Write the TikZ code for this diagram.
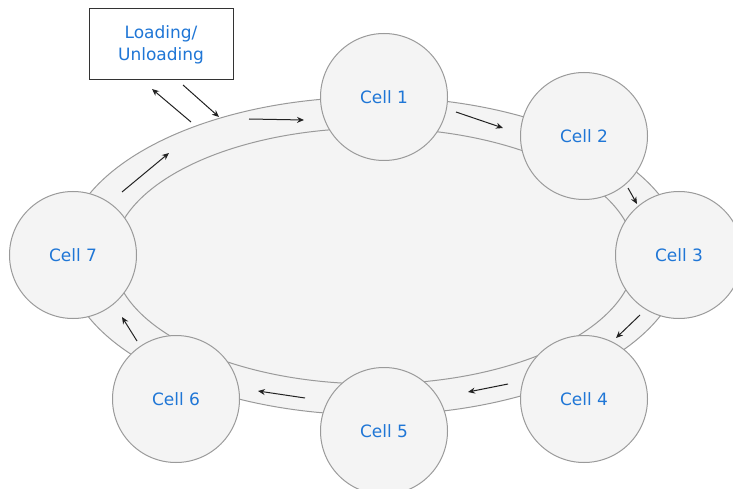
\documentclass[tikz,border=0pt]{standalone}
\usepackage{fontspec}
\setmainfont{DejaVu Sans}
\usetikzlibrary{arrows.meta}
\definecolor{ringfill}{HTML}{F4F4F4}
\definecolor{ringline}{HTML}{9A9A9A}
\definecolor{celltext}{HTML}{1F76D6}
\definecolor{arrowcol}{HTML}{222222}
\begin{document}
\begin{tikzpicture}[x=1pt,y=-1pt,
  cell/.style={circle, draw=ringline, fill=ringfill, line width=1pt, minimum size=127pt, inner sep=0pt,
    text=celltext, font=\fontsize{17}{20}\selectfont},
  loadbox/.style={draw=black!80, fill=white, line width=1pt, minimum width=144pt, minimum height=71pt,
    inner sep=0pt, align=center, text=celltext, font=\fontsize{17}{22}\selectfont},
  flow/.style={draw=arrowcol, line width=1pt, -{Stealth[length=7pt,width=6pt]}}]
\useasboundingbox (0,0) rectangle (733,489);
% ring
\coordinate (ctr) at (374,256);
\draw[ringline, fill=ringfill, line width=1pt] (ctr) ellipse [x radius=309pt, y radius=159pt];
\draw[ringline, fill=ringfill, line width=1pt] (ctr) ellipse [x radius=261pt, y radius=128pt];
% cells
\node[cell] (c1) at (384,97) {Cell 1};
\node[cell] (c2) at (584,136) {Cell 2};
\node[cell] (c3) at (679,255) {Cell 3};
\node[cell] (c4) at (584,399) {Cell 4};
\node[cell] (c5) at (384,431) {Cell 5};
\node[cell] (c6) at (176,399) {Cell 6};
\node[cell] (c7) at (73,255) {Cell 7};
% loading box
\node[loadbox] (load) at (161,44.5) {Loading/\\Unloading};
% arrow end points
\coordinate (a1s) at (191,122); \coordinate (a1e) at (152,89);
\coordinate (a2s) at (183,85);  \coordinate (a2e) at (219,117);
\coordinate (a3s) at (249,119); \coordinate (a3e) at (304,120);
\coordinate (a4s) at (456,112); \coordinate (a4e) at (503,128);
\coordinate (a5s) at (628,188); \coordinate (a5e) at (637,204);
\coordinate (a6s) at (640,315); \coordinate (a6e) at (616,338);
\coordinate (a7s) at (508,384); \coordinate (a7e) at (468,392);
\coordinate (a8s) at (305,398); \coordinate (a8e) at (258,391);
\coordinate (a9s) at (137,341); \coordinate (a9e) at (122,317);
\coordinate (a10s) at (122,192); \coordinate (a10e) at (169,153);
\draw[flow] (a1s) -- (a1e);
\draw[flow] (a2s) -- (a2e);
\draw[flow] (a3s) -- (a3e);
\draw[flow] (a4s) -- (a4e);
\draw[flow] (a5s) -- (a5e);
\draw[flow] (a6s) -- (a6e);
\draw[flow] (a7s) -- (a7e);
\draw[flow] (a8s) -- (a8e);
\draw[flow] (a9s) -- (a9e);
\draw[flow] (a10s) -- (a10e);
\end{tikzpicture}
\end{document}
